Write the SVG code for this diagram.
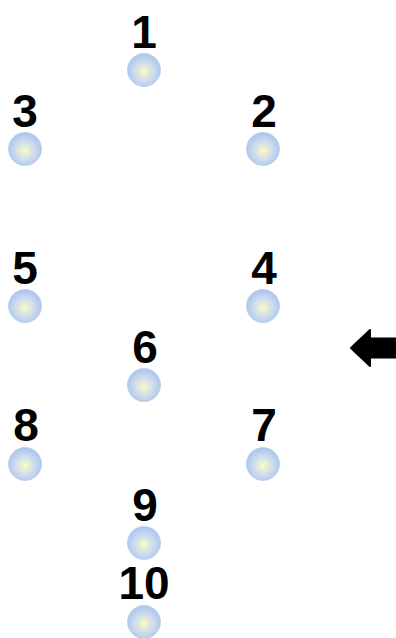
<svg xmlns="http://www.w3.org/2000/svg" width="396" height="638" viewBox="0 0 396 638">
<style>
.lbl{font-family:"Liberation Sans",Arial,sans-serif;font-weight:bold;font-size:46px;fill:#000;text-anchor:middle}
.dot{fill:url(#g);stroke:#b8cdf0;stroke-width:0.8}
</style>
<defs>
<radialGradient id="g" cx="0.5" cy="0.55" r="0.55">
<stop offset="0" stop-color="#fafac8"/>
<stop offset="0.5" stop-color="#d0ddea"/>
<stop offset="1" stop-color="#a6c3f2"/>
</radialGradient>
</defs>
<g id="connectors"></g>
<g id="n1"><text class="lbl" x="144" y="48">1</text><circle class="dot" cx="144" cy="70" r="16.5"/></g>
<g id="n3"><text class="lbl" x="25" y="127">3</text><circle class="dot" cx="25" cy="149" r="16.5"/></g>
<g id="n2"><text class="lbl" x="264" y="127">2</text><circle class="dot" cx="263" cy="149" r="16.5"/></g>
<g id="n5"><text class="lbl" x="25" y="284">5</text><circle class="dot" cx="25" cy="306" r="16.5"/></g>
<g id="n4"><text class="lbl" x="264" y="284">4</text><circle class="dot" cx="263" cy="306" r="16.5"/></g>
<g id="n6"><text class="lbl" x="145" y="363">6</text><circle class="dot" cx="144" cy="385" r="16.5"/></g>
<g id="n8"><text class="lbl" x="26" y="441">8</text><circle class="dot" cx="25" cy="464" r="16.5"/></g>
<g id="n7"><text class="lbl" x="264" y="441">7</text><circle class="dot" cx="263" cy="464" r="16.5"/></g>
<g id="n9"><text class="lbl" x="145" y="521">9</text><circle class="dot" cx="144" cy="543" r="16.5"/></g>
<g id="n10"><text class="lbl" x="144" y="599">10</text><circle class="dot" cx="144" cy="622" r="16.5"/></g>
<g id="arrow"><path d="M351,348 L370,330 L370,338.5 L396,338.5 L396,357.5 L370,357.5 L370,366 Z" fill="#000" stroke="#000" stroke-width="2" stroke-linejoin="round"/></g>
</svg>
